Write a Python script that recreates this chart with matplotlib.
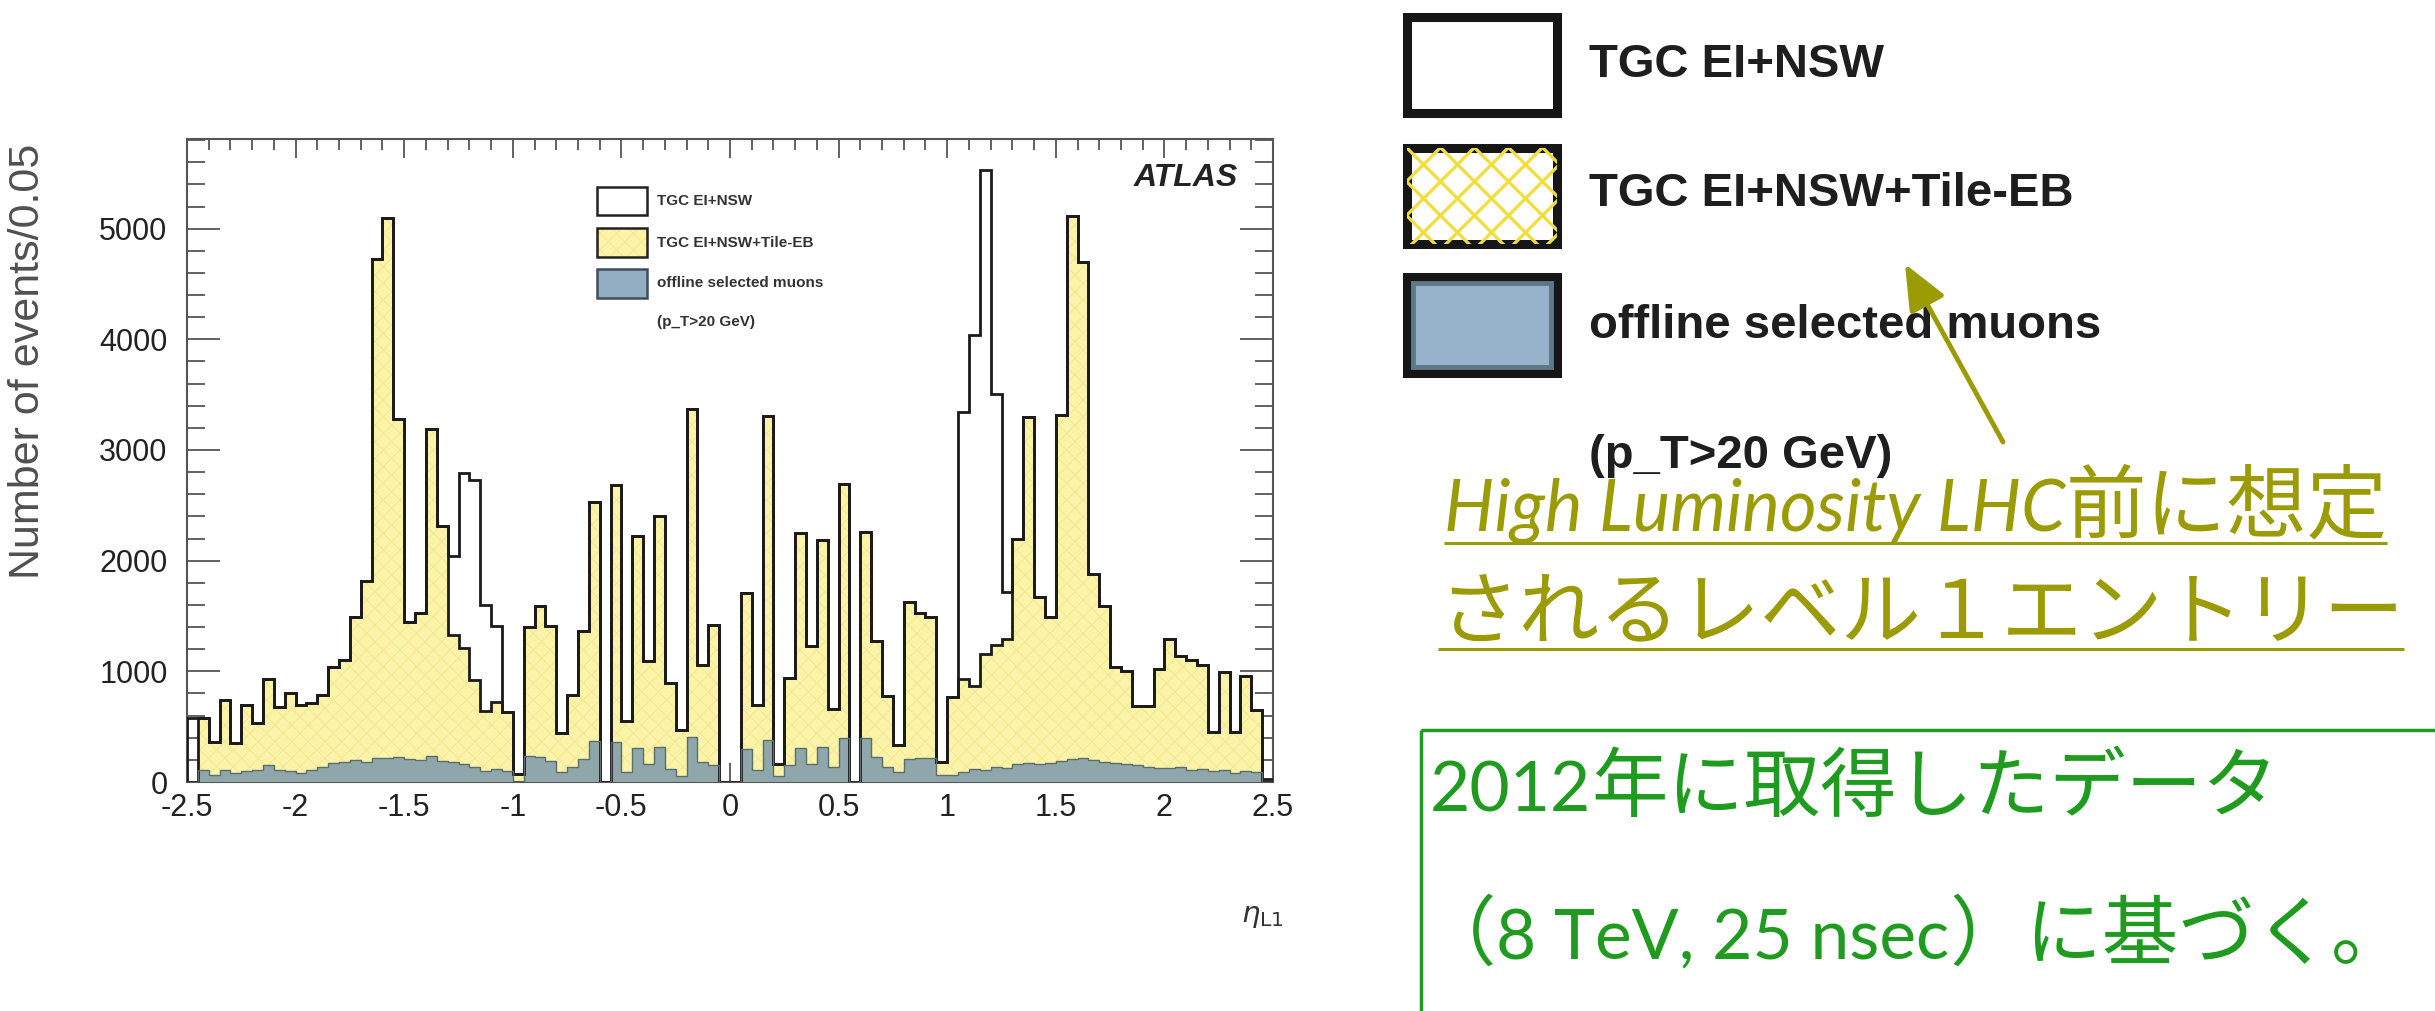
import numpy as np
import matplotlib
matplotlib.use("Agg")
import matplotlib.pyplot as plt
from matplotlib.patches import Rectangle
from matplotlib.ticker import MultipleLocator, FixedLocator, FixedFormatter

W, H = 2435, 1011

# eta binning of the level-1 trigger histograms (bin width 0.05)
eta_min, eta_max, n_bins = -2.5, 2.5, 100

# TGC EI+NSW coincidence
tgc_ei_nsw = [
    580, 577, 365, 743, 350, 697, 531, 930, 682, 803,
    697, 713, 788, 1039, 1105, 1490, 1815, 4728, 5097, 3279,
    1445, 1528, 3190, 2313, 2041, 2790, 2730, 1603, 1412, 635,
    70, 1400, 1588, 1410, 445, 786, 1365, 2526, 0, 2688,
    550, 2220, 1094, 2405, 898, 471, 3370, 1060, 1415, 0,
    0, 1709, 697, 3310, 165, 940, 2253, 1230, 2187, 660,
    2690, 0, 2260, 1271, 778, 335, 1630, 1528, 1495, 180,
    770, 3345, 4036, 5530, 3508, 1717, 2200, 3294, 1670, 1495,
    3320, 5115, 4700, 1878, 1588, 1039, 1000, 686, 686, 1020,
    1290, 1140, 1100, 1060, 450, 990, 450, 960, 650, 30,
]

# TGC EI+NSW with Tile-EB coincidence
tgc_ei_nsw_tile_eb = [
    0, 577, 365, 743, 350, 697, 531, 930, 682, 803,
    697, 713, 788, 1039, 1105, 1490, 1815, 4728, 5097, 3279,
    1445, 1528, 3190, 2313, 1325, 1213, 920, 640, 725, 635,
    70, 1400, 1588, 1410, 445, 786, 1365, 2526, 0, 2688,
    550, 2220, 1094, 2405, 898, 471, 3370, 1060, 1415, 0,
    0, 1709, 697, 3310, 165, 940, 2253, 1230, 2187, 660,
    2690, 0, 2260, 1271, 778, 335, 1630, 1528, 1495, 180,
    770, 930, 865, 1155, 1236, 1290, 2200, 3294, 1670, 1495,
    3320, 5115, 4700, 1878, 1588, 1039, 1000, 686, 686, 1020,
    1290, 1140, 1100, 1060, 450, 990, 450, 960, 650, 0,
]

# offline selected muons, p_T > 20 GeV
offline_muons = [
    0, 110, 65, 110, 80, 95, 110, 155, 110, 95,
    80, 110, 140, 170, 185, 200, 185, 215, 215, 230,
    210, 195, 238, 190, 178, 163, 133, 103, 118, 100,
    0, 238, 223, 193, 88, 133, 208, 374, 0, 359,
    88, 305, 163, 320, 118, 58, 405, 178, 150, 0,
    0, 300, 110, 380, 50, 150, 305, 163, 320, 140,
    400, 0, 400, 230, 140, 90, 210, 220, 215, 60,
    60, 90, 120, 110, 140, 130, 160, 170, 160, 170,
    190, 210, 215, 200, 185, 170, 160, 150, 140, 130,
    125, 140, 110, 120, 95, 110, 80, 100, 90, 0,
]

eta_ticks = [-2.5, -2.0, -1.5, -1.0, -0.5, 0.0, 0.5, 1.0, 1.5, 2.0, 2.5]
eta_tick_labels = ["-2.5", "-2", "-1.5", "-1", "-0.5", "0", "0.5", "1", "1.5", "2", "2.5"]
count_ticks = [0, 1000, 2000, 3000, 4000, 5000]
count_tick_labels = ["0", "1000", "2000", "3000", "4000", "5000"]
series_labels = ["TGC EI+NSW", "TGC EI+NSW+Tile-EB", "offline selected muons", "(p_T>20 GeV)"]

ROOT_FONT = "Liberation Sans"
LATIN = "Lato"
CJK = "Noto Sans CJK JP"
YELLOW = "#faf3a8"
YELLOW_HATCH = "#f2e68e"
MUON_BLUE = "#8fa7aa"
OLIVE = "#9b9b05"
GREEN = "#1f9c1f"


def hatch_width(patch, w):
    if hasattr(patch, "set_hatch_linewidth"):
        patch.set_hatch_linewidth(w)
    else:
        plt.rcParams["hatch.linewidth"] = w


fig = plt.figure(figsize=(W / 100, H / 100), dpi=100)
fig.patch.set_facecolor("white")

# ---- histogram panel -------------------------------------------------------
ax = fig.add_axes([187 / W, 1 - 782 / H, (1273 - 187) / W, (782 - 139) / H])
edges = np.linspace(eta_min, eta_max, n_bins + 1)

ax.stairs(tgc_ei_nsw, edges, fill=True, facecolor="white", linewidth=0, zorder=1)
p = ax.stairs(tgc_ei_nsw_tile_eb, edges, fill=True, facecolor=YELLOW,
              edgecolor=YELLOW_HATCH, hatch="xx", linewidth=0, zorder=2)
hatch_width(p, 0.6)
ax.stairs(offline_muons, edges, fill=True, facecolor=MUON_BLUE, linewidth=0, zorder=3)
ax.stairs(tgc_ei_nsw, edges, color="#1b1b1b", linewidth=2.0, zorder=4)
ax.stairs(tgc_ei_nsw_tile_eb, edges, color="#1b1b1b", linewidth=2.0, zorder=5)
ax.stairs(offline_muons, edges, color="#5b6d6e", linewidth=1.0, zorder=6)

ax.set_xlim(eta_min, eta_max)
ax.set_ylim(0, 5810)
ax.xaxis.set_major_locator(FixedLocator(eta_ticks))
ax.xaxis.set_major_formatter(FixedFormatter(eta_tick_labels))
ax.xaxis.set_minor_locator(MultipleLocator(0.1))
ax.yaxis.set_major_locator(FixedLocator(count_ticks))
ax.yaxis.set_major_formatter(FixedFormatter(count_tick_labels))
ax.yaxis.set_minor_locator(MultipleLocator(200))
ax.tick_params(which="both", direction="in", top=True, right=True, color="#555555", width=1.3)
ax.tick_params(axis="x", which="major", length=14, pad=8)
ax.tick_params(axis="x", which="minor", length=8)
ax.tick_params(axis="y", which="major", length=24, pad=14)
ax.tick_params(axis="y", which="minor", length=13)
for lab in ax.get_xticklabels() + ax.get_yticklabels():
    lab.set_fontfamily(ROOT_FONT)
    lab.set_fontsize(22)
    lab.set_color("#222222")
for sp in ax.spines.values():
    sp.set_color("#555555")
    sp.set_linewidth(1.5)

# ---- overlay in pixel coordinates -----------------------------------------
ov = fig.add_axes([0, 0, 1, 1])
ov.set_xlim(0, W)
ov.set_ylim(H, 0)
ov.axis("off")
ov.set_zorder(10)

ov.text(28, 144, "Number of events/0.05", rotation=90, ha="center", va="top",
        fontsize=31, fontfamily=ROOT_FONT, color="#505050")
ov.text(1262, 916, r"$\eta_{\mathrm{L1}}$", ha="center", va="center", fontsize=21, color="#333333")
ov.text(1238, 186, "ATLAS", ha="right", va="baseline", fontsize=23, fontweight="bold",
        fontstyle="italic", fontfamily=ROOT_FONT, color="#222222")

# small in-frame legend
ov.add_patch(Rectangle((597, 187), 50, 28, facecolor="white", edgecolor="#222222", lw=1.8))
hp = Rectangle((597, 228), 50, 29, facecolor=YELLOW, edgecolor=YELLOW_HATCH, hatch="xx", lw=0)
ov.add_patch(hp)
hatch_width(hp, 0.6)
ov.add_patch(Rectangle((597, 228), 50, 29, facecolor="none", edgecolor="#222222", lw=1.8))
ov.add_patch(Rectangle((597, 269), 50, 29, facecolor="#93adc2", edgecolor="#3f4f5a", lw=1.8))
for lab, yc in zip(series_labels, [201, 243, 283, 322]):
    ov.text(657, yc, lab, ha="left", va="center", fontsize=11, fontweight="bold",
            fontfamily=ROOT_FONT, color="#333333")

# enlarged legend on the right
BX, BW, BH = 1406.5, 150, 96
ov.add_patch(Rectangle((BX, 16.5), BW, BH, facecolor="white", edgecolor="#161616", lw=6.5))
yb = Rectangle((BX, 147.5), BW, BH, facecolor="white", edgecolor="none", lw=0)
ov.add_patch(yb)
step = 34
for c in np.arange(-306, 510, step):
    for sgn in (1, -1):
        xs = np.array([BX - 120, BX + BW + 120])
        ys = 147.5 + sgn * (xs - BX) + c
        ln, = ov.plot(xs, ys, color="#f1de3a", lw=2.3, solid_capstyle="butt")
        ln.set_clip_path(yb)
ov.add_patch(Rectangle((BX, 147.5), BW, BH, facecolor="none", edgecolor="#161616", lw=6.5))
ov.add_patch(Rectangle((BX, 276.5), BW, BH, facecolor="#96b3cb", edgecolor="#161616", lw=6.5))
ov.add_patch(Rectangle((BX + 6, 282.5), BW - 12, BH - 12, facecolor="#96b3cb", edgecolor="#5f7888", lw=3.5))
for lab, yc in zip(series_labels, [65, 194, 326, 456]):
    ov.text(1589, yc, lab, ha="left", va="center", fontsize=34, fontweight="bold",
            fontfamily=ROOT_FONT, color="#1e1e1e")

ov.annotate("", xy=(1905, 264), xytext=(2003, 442),
            arrowprops=dict(arrowstyle="-|>,head_length=1.4,head_width=0.6", color=OLIVE,
                            lw=3.5, shrinkA=0, shrinkB=0, mutation_scale=20))

renderer = fig.canvas.get_renderer()


def text_runs(x, y, runs):
    x0 = x
    for s, kw in runs:
        t = ov.text(x, y, s, ha="left", va="baseline", **kw)
        x += t.get_window_extent(renderer=renderer).width
    return x0, x


olive_latin = dict(fontfamily=LATIN, fontstyle="italic", fontsize=51, color=OLIVE)
olive_cjk = dict(fontfamily=CJK, fontsize=58, color=OLIVE)
x0, x1 = text_runs(1444, 531, [("High Luminosity LHC", olive_latin), ("前に想定", olive_cjk)])
ov.plot([x0, x1], [543, 543], color=OLIVE, lw=2.2, solid_capstyle="butt")
x0, x1 = text_runs(1438, 637, [("されるレベル１エントリー", olive_cjk)])
ov.plot([x0, x1], [649, 649], color=OLIVE, lw=2.2, solid_capstyle="butt")

ov.add_patch(Rectangle((1421, 730), 1100, 400, facecolor="none", edgecolor=GREEN, lw=2.5))
green_latin = dict(fontfamily=LATIN, fontsize=50, color=GREEN)
green_cjk = dict(fontfamily=CJK, fontsize=55, color=GREEN)
text_runs(1430, 811, [("2012", green_latin), ("年に取得したデータ", green_cjk)])
text_runs(1420, 959, [("（", green_cjk), ("8 TeV, 25 nsec", green_latin), ("）に基づく。", green_cjk)])

fig.savefig("out.png", dpi=100, facecolor="white")
